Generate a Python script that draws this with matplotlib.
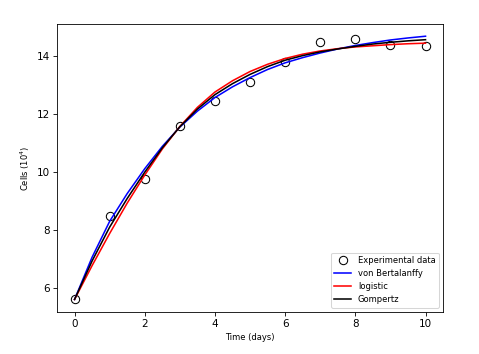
import numpy as np
import matplotlib
matplotlib.use('Agg')
import matplotlib.pyplot as plt

# days
t = [0, 1, 2, 3, 4, 5, 6, 7, 8, 9, 10]
# measured cell counts (10^4)
cells = [5.6, 8.5, 9.77, 11.6, 12.46, 13.12, 13.82, 14.5, 14.59, 14.38, 14.36]

# fitted curves, every half day
t_fit = [0, 0.5, 1, 1.5, 2, 2.5, 3, 3.5, 4, 4.5, 5, 5.5, 6, 6.5, 7, 7.5, 8, 8.5, 9, 9.5, 10]
bertalanffy = [5.6, 7.06, 8.30, 9.26, 10.12, 10.89, 11.56, 12.11, 12.58, 12.95, 13.27,
               13.55, 13.78, 13.96, 14.12, 14.26, 14.38, 14.48, 14.57, 14.64, 14.70]
logistic = [5.6, 6.77, 7.88, 8.93, 9.90, 10.80, 11.58, 12.24, 12.77, 13.16, 13.48,
            13.73, 13.93, 14.08, 14.19, 14.27, 14.33, 14.37, 14.41, 14.44, 14.46]
gompertz = [5.6, 6.93, 8.10, 9.09, 10.00, 10.84, 11.57, 12.18, 12.68, 13.06, 13.38,
            13.65, 13.87, 14.03, 14.16, 14.26, 14.35, 14.43, 14.49, 14.54, 14.58]

fig = plt.figure(figsize=(479/75, 354/75), dpi=75)
ax = fig.add_axes([0.119, 0.119, 0.806, 0.813])

ax.plot(t, cells, 'o', mfc='none', mec='black', ms=8, label='Experimental data')
ax.plot(t_fit, bertalanffy, color='blue', lw=1.5, label='von Bertalanffy')
ax.plot(t_fit, logistic, color='red', lw=1.5, label='logistic')
ax.plot(t_fit, gompertz, color='black', lw=1.5, label='Gompertz')

ax.set_xlim(-0.5, 10.5)
ax.set_ylim(5.17, 15.12)
ax.set_xticks([0, 2, 4, 6, 8, 10])
ax.set_yticks([6, 8, 10, 12, 14])
ax.set_xlabel('Time (days)', fontsize=8)
ax.set_ylabel('Cells ($10^4$)', fontsize=8)
ax.legend(loc='lower right', fontsize=8)

fig.savefig('out.png', dpi=75)
